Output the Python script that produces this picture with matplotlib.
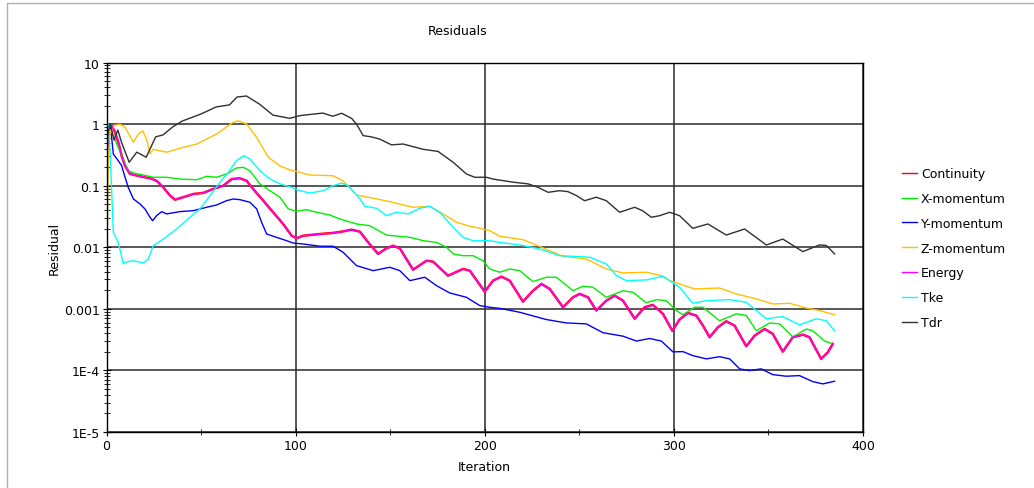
import numpy as np
import matplotlib

matplotlib.use("Agg")
import matplotlib.pyplot as plt
from matplotlib.ticker import FixedLocator, FixedFormatter, LogLocator, NullFormatter
from matplotlib.patches import Rectangle

plt.rcParams["font.family"] = ["DejaVu Sans"]

# ── Data (iteration, residual) ───────────────────────────────────────────────
cont_it = [0, 1, 2, 3, 4.5, 6.2, 8, 9.8, 12.4, 17.7, 23, 26.5, 30, 33.6, 36.2, 40.6, 45.9,
           51.1, 56.4, 61.7, 66.2, 70.5, 74.1, 77.6, 82.9, 88.1, 93.4, 97.9, 100.5, 104,
           112.8, 119.8, 124.3, 129.6, 134, 138.4, 143.6, 148, 151.5, 155.1, 162.1, 169.2,
           172.7, 180.6, 188.5, 192.1, 200, 204.4, 208.8, 213.2, 220.2, 225.5, 230, 234.4,
           241.4, 246.7, 250.2, 254.6, 259, 264.3, 268.7, 273.1, 279.3, 284.5, 288.9, 294.2,
           299.2, 303, 307.4, 311.9, 315.4, 318.9, 323.3, 327.7, 332.1, 338.3, 342.7, 348,
           352.3, 357.6, 362.9, 368.2, 371.7, 377.9, 381.4, 384]
cont_res = [0.3, 0.7, 1.0, 0.9, 0.74, 0.51, 0.307, 0.211, 0.155, 0.142, 0.132, 0.12, 0.094,
            0.069, 0.0593, 0.065, 0.0733, 0.0762, 0.0883, 0.1, 0.128, 0.132, 0.12, 0.088,
            0.057, 0.037, 0.0239, 0.0154, 0.014, 0.0154, 0.0164, 0.0171, 0.0179, 0.0193,
            0.0179, 0.012, 0.0078, 0.0096, 0.0106, 0.0096, 0.00432, 0.00605, 0.00583,
            0.00346, 0.00444, 0.00417, 0.0019, 0.00287, 0.00333, 0.00287, 0.00131, 0.00197,
            0.00254, 0.0021, 0.00106, 0.00154, 0.00175, 0.00154, 0.00094, 0.00136, 0.00164,
            0.00136, 0.00069, 0.00106, 0.00116, 0.00083, 0.00044, 0.00067, 0.000858,
            0.000776, 0.000534, 0.000346, 0.000502, 0.000629, 0.000534, 0.000247, 0.000367,
            0.000472, 0.000392, 0.000202, 0.000346, 0.000381, 0.000346, 0.000154, 0.000197,
            0.000269]

# Energy sits right on top of Continuity in the picture
energy_it = list(cont_it)
energy_res = list(cont_res)

xmom_it = [0, 1, 2, 3.6, 6.2, 8.9, 11.5, 14.2, 19.4, 24.7, 31.8, 38.8, 47.7, 52.9, 58.2, 63.5,
           68.8, 72.3, 75.8, 81.1, 86.4, 91.7, 96.1, 100.5, 105.8, 111.1, 118.1, 123.4,
           132.2, 139.2, 148, 160.4, 167.4, 174.5, 179.8, 183.3, 188.5, 193.8, 199.1, 202.6,
           207.9, 213.2, 218.5, 225.5, 232.6, 237.9, 246.7, 251.9, 257.2, 264.3, 273.1,
           278.4, 285.4, 290.7, 296, 301.3, 304.8, 311, 315.4, 324.2, 333, 338.3, 343.6,
           350.6, 355.9, 362.9, 370, 373.5, 379.7, 384]
xmom_res = [0.5, 1.0, 0.8, 0.65, 0.42, 0.271, 0.175, 0.161, 0.149, 0.137, 0.137, 0.128, 0.125,
            0.142, 0.137, 0.155, 0.194, 0.199, 0.175, 0.107, 0.083, 0.065, 0.042, 0.0384,
            0.0407, 0.037, 0.0334, 0.0288, 0.0239, 0.0224, 0.0158, 0.0145, 0.0128, 0.012,
            0.01, 0.0078, 0.0073, 0.0073, 0.00605, 0.00444, 0.00393, 0.00444, 0.00417,
            0.00277, 0.00326, 0.00326, 0.00197, 0.00233, 0.00224, 0.00154, 0.00197, 0.00186,
            0.00125, 0.00141, 0.00136, 0.00094, 0.0008, 0.00106, 0.00106, 0.00064, 0.00083,
            0.00078, 0.00044, 0.00059, 0.00057, 0.00035, 0.00047, 0.00044, 0.0003, 0.00027]

ymom_it = [0, 1, 2, 3.6, 6.2, 8, 9.8, 11.5, 14.2, 17.7, 20.3, 23, 24.4, 26.5, 29.2, 31.8,
           38.8, 45.9, 52.9, 58.2, 63.5, 67, 70.5, 75.8, 79.4, 82, 84.7, 89.9, 95.2, 98.7,
           104, 112.8, 119.8, 125.1, 132.2, 141, 149.8, 155.1, 160.4, 168.3, 174.5, 181.5,
           190.3, 197.4, 202.6, 207.9, 218.5, 232.6, 243.2, 253.7, 262.5, 273.1, 280.2,
           287.2, 293.4, 299.5, 304.8, 310, 317.2, 324.2, 329.5, 334.8, 340, 346.2, 352.3,
           359.4, 366.4, 373.5, 378.8, 385]
ymom_res = [0.2, 0.8, 1.0, 0.327, 0.255, 0.211, 0.137, 0.094, 0.061, 0.0505, 0.042, 0.0307,
            0.027, 0.0326, 0.0379, 0.0348, 0.0379, 0.0393, 0.0446, 0.0486, 0.0571, 0.0608,
            0.0593, 0.0538, 0.042, 0.0255, 0.0164, 0.0145, 0.0128, 0.0117, 0.0113, 0.0104,
            0.0104, 0.0083, 0.00503, 0.00417, 0.00473, 0.00417, 0.00287, 0.00326, 0.00238,
            0.00181, 0.00154, 0.00113, 0.00106, 0.00102, 0.00088, 0.00067, 0.00059, 0.00057,
            0.00041, 0.00036, 0.0003, 0.00033, 0.0003, 0.0002, 0.000202, 0.000174, 0.000154,
            0.000167, 0.000154, 0.000106, 9.93e-5, 0.000106, 8.55e-5, 8.05e-5, 8.24e-5,
            6.58e-5, 6.04e-5, 6.68e-5]

zmom_it = [0, 1, 2, 2.7, 4, 7.1, 9.8, 14.2, 16.8, 19.1, 21.2, 23, 24.7, 31.8, 40.6, 47.7,
           58.2, 67, 69.6, 74.1, 79.4, 85.5, 91.7, 97, 102.2, 107.5, 119.8, 125.1, 132.2,
           142.8, 149.8, 162.1, 170.9, 178, 185, 192.1, 197.4, 202.6, 207.9, 220.2, 230,
           241.4, 253.7, 264.3, 273.1, 285.4, 293.4, 297.8, 303, 311, 324.1, 333, 343.6,
           352.3, 361.2, 370, 377, 385]
zmom_res = [0.0024, 0.3, 0.8, 0.74, 0.95, 1.0, 0.89, 0.51, 0.69, 0.78, 0.57, 0.33, 0.39, 0.35,
            0.42, 0.475, 0.69, 1.07, 1.13, 1.0, 0.61, 0.29, 0.21, 0.18, 0.165, 0.149, 0.145,
            0.12, 0.0706, 0.061, 0.055, 0.0446, 0.0463, 0.0348, 0.0255, 0.0219, 0.0203,
            0.0186, 0.0151, 0.0133, 0.01, 0.00714, 0.00646, 0.00444, 0.00383, 0.00393,
            0.00346, 0.00287, 0.00254, 0.0021, 0.00218, 0.00175, 0.00145, 0.0012, 0.00123,
            0.00103, 0.00094, 0.0008]

tke_it = [0, 1, 2, 3.6, 6.2, 8.9, 9.8, 14.2, 19.4, 22.1, 24.7, 30, 37.1, 44.1, 49.4, 54.7, 60,
          64.4, 68.8, 72.7, 75.8, 81.1, 86.4, 91.7, 97, 102.2, 107.5, 114.6, 119.8, 124.3,
          127.8, 134, 136.6, 142.8, 148, 153.3, 159.5, 165.7, 170.9, 176.2, 183.3, 188.5,
          193.8, 202.6, 207.9, 218.5, 229.1, 239.6, 255.5, 264.3, 269.6, 274.9, 285.4, 294.2,
          297.8, 303, 310, 317.2, 329.5, 338.3, 343.6, 348.9, 357.6, 366.4, 375.3, 380.6, 385]
tke_res = [0.3, 1.0, 0.3, 0.0175, 0.012, 0.00536, 0.0057, 0.00605, 0.00556, 0.00646, 0.0106,
           0.0136, 0.0198, 0.0307, 0.0419, 0.0689, 0.1135, 0.165, 0.255, 0.307, 0.271, 0.175,
           0.129, 0.107, 0.096, 0.083, 0.076, 0.083, 0.1, 0.11, 0.1, 0.061, 0.0463, 0.043,
           0.0326, 0.037, 0.0348, 0.043, 0.0463, 0.037, 0.0211, 0.0145, 0.0128, 0.0128,
           0.012, 0.0109, 0.0094, 0.0073, 0.0069, 0.00536, 0.00346, 0.00287, 0.00295, 0.00338,
           0.00287, 0.00224, 0.00123, 0.00136, 0.00141, 0.00128, 0.00094, 0.00069, 0.00075,
           0.00055, 0.00069, 0.00064, 0.00044]

tdr_it = [0, 1, 2, 4, 6, 8, 12, 16, 21, 26, 30, 35, 40, 50, 58, 65, 69, 74, 81, 88, 97, 102,
          110, 114.4, 119.7, 124.3, 129.6, 132.2, 135.7, 140.1, 144.5, 150.7, 156.8, 167.4,
          175.3, 183.3, 190.3, 194.7, 200.9, 204.4, 215, 222.9, 228.2, 233.5, 239.6, 244,
          248.5, 252.8, 259, 264.3, 271.3, 279.3, 283.6, 288.1, 292.5, 297.8, 303, 310, 318,
          327.7, 337.4, 348.9, 357.6, 368.2, 377, 380.6, 385]
tdr_res = [0.4, 0.8, 1.0, 0.55, 0.8, 0.5, 0.24, 0.35, 0.29, 0.62, 0.67, 0.9, 1.12, 1.46, 1.9,
           2.05, 2.75, 2.86, 2.1, 1.4, 1.24, 1.37, 1.46, 1.51, 1.34, 1.5, 1.24, 1.0, 0.65, 0.62,
           0.57, 0.46, 0.475, 0.39, 0.36, 0.24, 0.155, 0.137, 0.137, 0.128, 0.114, 0.107,
           0.094, 0.078, 0.083, 0.08, 0.069, 0.057, 0.065, 0.057, 0.037, 0.0446, 0.039,
           0.0307, 0.0326, 0.037, 0.0326, 0.0203, 0.0239, 0.0158, 0.0198, 0.0109, 0.0136,
           0.0085, 0.0109, 0.0107, 0.0078]

series = [
    ("Continuity", cont_it, cont_res, "#ff0000", 1.8),
    ("X-momentum", xmom_it, xmom_res, "#00ee00", 1.0),
    ("Y-momentum", ymom_it, ymom_res, "#0000ff", 1.0),
    ("Z-momentum", zmom_it, zmom_res, "#ffc000", 1.0),
    ("Energy", energy_it, energy_res, "#ff00ff", 1.0),
    ("Tke", tke_it, tke_res, "#00ffff", 1.0),
    ("Tdr", tdr_it, tdr_res, "#303030", 1.0),
]

y_ticks = [1e-5, 1e-4, 1e-3, 1e-2, 1e-1, 1, 10]
y_labels = ["1E-5", "1E-4", "0.001", "0.01", "0.1", "1", "10"]
x_ticks = [0, 100, 200, 300, 400]

# ── Plot ──────────────────────────────────────────────────────────────────────
fig = plt.figure(figsize=(10.34, 4.89), dpi=100)
ax = fig.add_axes([0.103, 0.1145, 0.7316, 0.7556])

for name, it, res, color, lw in series:
    ax.plot(it, res, color=color, linewidth=lw, label=name)

ax.set_yscale("log")
ax.set_ylim(1e-5, 10)
ax.set_xlim(0, 400)

ax.yaxis.set_major_locator(FixedLocator(y_ticks))
ax.yaxis.set_major_formatter(FixedFormatter(y_labels))
ax.yaxis.set_minor_locator(LogLocator(base=10, subs=np.arange(2, 10)))
ax.yaxis.set_minor_formatter(NullFormatter())
ax.xaxis.set_major_locator(FixedLocator(x_ticks))
ax.xaxis.set_minor_locator(FixedLocator([50, 150, 250, 350]))

ax.grid(True, which="major", color="#2a2a2a", linewidth=1.1)
ax.tick_params(which="both", direction="inout", labelsize=9, colors="black", pad=2)
ax.tick_params(which="major", length=6)
ax.tick_params(which="minor", length=5)
for s in ax.spines.values():
    s.set_linewidth(1.0)

ax.set_xlabel("Iteration", fontsize=9)
ax.set_ylabel("Residual", fontsize=9)
ax.xaxis.set_label_coords(0.5, -0.075)
ax.yaxis.set_label_coords(-0.06, 0.5)

fig.text(0.443, 0.935, "Residuals", fontsize=9, ha="center", va="center")

ax.legend(loc="upper left", bbox_to_anchor=(902 / 1034, 1 - 168 / 489),
          bbox_transform=fig.transFigure, frameon=False, fontsize=9,
          handlelength=1.2, handletextpad=0.3, labelspacing=0.95, borderpad=0,
          borderaxespad=0)
for line in ax.get_legend().get_lines():
    line.set_linewidth(1.0)

# light grey frame round the whole chart
fig.patches.append(Rectangle((7 / 1034, -0.1), 2, 1 - 4 / 489 + 0.1,
                             transform=fig.transFigure, fill=False,
                             edgecolor="#b0b0b0", linewidth=1))

fig.savefig("out.png", dpi=100)
